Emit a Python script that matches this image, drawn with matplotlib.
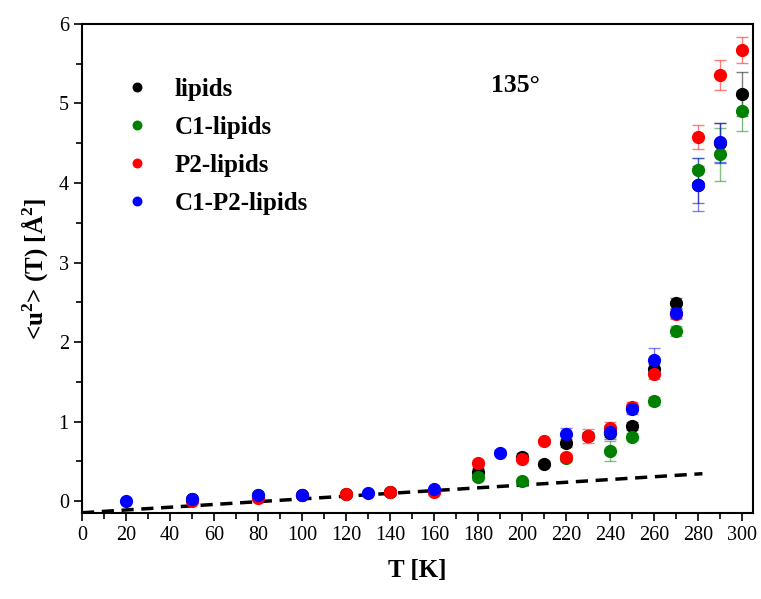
import numpy as np
import matplotlib.pyplot as plt
from matplotlib.ticker import MultipleLocator

plt.rcParams['font.family'] = ['Liberation Serif', 'DejaVu Serif']
plt.rcParams['mathtext.fontset'] = 'custom'
plt.rcParams['mathtext.bf'] = 'Liberation Serif:bold'
plt.rcParams['mathtext.rm'] = 'Liberation Serif'

# lipids (black)
t_lip = [50, 80, 100, 120, 140, 180, 200, 210, 220, 230, 240, 250, 260, 270, 280, 290, 300]
u_lip = [0.02, 0.05, 0.075, 0.09, 0.11, 0.37, 0.56, 0.47, 0.73, 0.82, 0.85, 0.94, 1.66, 2.49, 3.98, 4.50, 5.12]
e_lip = [0.02, 0.03, 0.02, 0.03, 0.03, 0.04, 0.04, 0.03, 0.05, 0.05, 0.05, 0.05, 0.06, 0.06, 0.23, 0.25, 0.28]

# C1-lipids (green)
t_c1 = [80, 160, 180, 200, 220, 240, 250, 260, 270, 280, 290, 300]
u_c1 = [0.08, 0.13, 0.30, 0.25, 0.54, 0.63, 0.81, 1.26, 2.14, 4.16, 4.36, 4.91]
e_c1 = [0.02, 0.02, 0.03, 0.03, 0.03, 0.13, 0.04, 0.05, 0.06, 0.15, 0.33, 0.25]

# P2-lipids (red)
t_p2 = [50, 80, 100, 120, 140, 160, 180, 200, 210, 220, 230, 240, 250, 260, 270, 280, 290, 300]
u_p2 = [0.0, 0.04, 0.075, 0.09, 0.11, 0.11, 0.48, 0.53, 0.75, 0.55, 0.82, 0.92, 1.18, 1.60, 2.35, 4.58, 5.36, 5.67]
e_p2 = [0.02, 0.03, 0.02, 0.03, 0.03, 0.02, 0.04, 0.04, 0.03, 0.04, 0.09, 0.08, 0.06, 0.07, 0.06, 0.15, 0.19, 0.16]

# C1-P2-lipids (blue)
t_c1p2 = [20, 50, 80, 100, 130, 160, 190, 220, 240, 250, 260, 270, 280, 290]
u_c1p2 = [0.0, 0.03, 0.075, 0.075, 0.105, 0.15, 0.61, 0.84, 0.87, 1.16, 1.77, 2.36, 3.98, 4.51]
e_c1p2 = [0.01, 0.02, 0.02, 0.02, 0.02, 0.02, 0.03, 0.08, 0.09, 0.06, 0.15, 0.06, 0.33, 0.25]

# harmonic (linear) fit, dashed
fit_t = [0, 282]
fit_u = [-0.147, 0.344]

series = [
    (t_lip, u_lip, e_lip, 'black', 'lipids'),
    (t_c1, u_c1, e_c1, 'green', 'C1-lipids'),
    (t_p2, u_p2, e_p2, 'red', 'P2-lipids'),
    (t_c1p2, u_c1p2, e_c1p2, 'blue', 'C1-P2-lipids'),
]

fig = plt.figure(figsize=(7.61, 5.99), dpi=100)
ax = fig.add_axes([0.1078, 0.1436, 0.8817, 0.8164])

handles = []
for t, u, e, c, lab in series:
    ax.errorbar(t, u, yerr=e, fmt='none', ecolor=c, elinewidth=1.0,
                capsize=4, capthick=1.0, alpha=0.5, zorder=2)
    h, = ax.plot(t, u, 'o', color=c, markersize=8.5, label=lab, zorder=3)
    handles.append(h)

ax.plot(fit_t, fit_u, '--', color='black', lw=2.5, dashes=(3.5, 2.2), zorder=1)

ax.set_xlim(0, 305)
ax.set_ylim(-0.15, 6)
ax.xaxis.set_major_locator(MultipleLocator(20))
ax.xaxis.set_minor_locator(MultipleLocator(10))
ax.yaxis.set_major_locator(MultipleLocator(1))
ax.yaxis.set_minor_locator(MultipleLocator(0.5))
ax.tick_params(which='both', direction='out', top=False, right=False,
               labelsize=14.5, width=1.2)
ax.tick_params(which='major', length=6)
ax.tick_params(which='minor', length=4)
for s in ax.spines.values():
    s.set_linewidth(1.5)

ax.set_xlabel('T [K]', fontsize=18, fontweight='bold', labelpad=10)
ax.set_ylabel('<u$^\\mathbf{2}$> (T) [Å$^\\mathbf{2}$]', fontsize=18,
              fontweight='bold', labelpad=6)

ax.text(186, 5.22, '135°', fontsize=18.5, fontweight='bold', ha='left', va='center')

ax.legend(handles=handles, loc='upper left', bbox_to_anchor=(0.011, 0.935),
          frameon=False, markerscale=0.72, handlelength=2.0, handletextpad=0.5,
          labelspacing=0.6,
          prop={'family': 'Liberation Serif', 'weight': 'bold', 'size': 18})

fig.savefig('out.png', dpi=100)
